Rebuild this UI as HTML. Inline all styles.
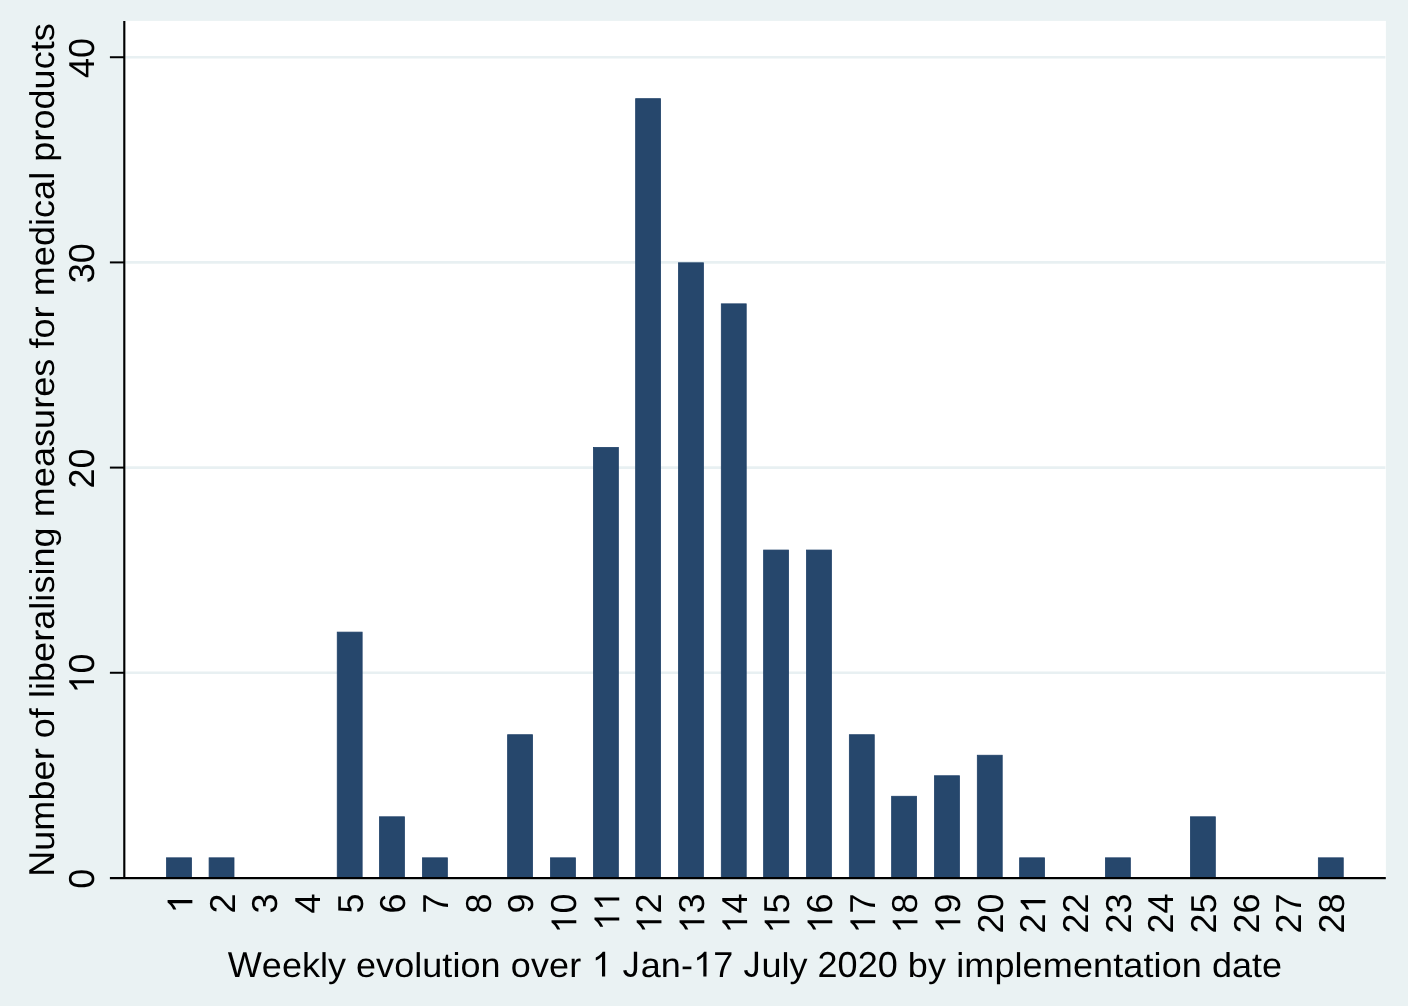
<!DOCTYPE html><html><head><meta charset="utf-8"><style>html,body{margin:0;padding:0;background:#eaf2f3;overflow:hidden;}svg{display:block;will-change:transform;}text{font-family:"Liberation Sans",sans-serif;fill:#000;text-rendering:geometricPrecision;font-kerning:none;white-space:pre;}</style></head><body>
<svg width="1408" height="1006" viewBox="0 0 1408 1006">
<defs><path id="g1" d="M763 0L583 0L583 1147Q518 1085 428 1020Q338 955 228 914L228 1088Q366 1150 470 1238Q574 1326 626 1409L763 1409Z"/><path id="gJ" d="M457 -20Q99 -20 32 350L219 381Q237 265 300 200Q363 135 450 135Q545 135 592 206Q640 278 640 416V1409H830V420Q830 215 730 97Q630 -20 457 -20Z"/></defs>
<g>
<rect x="0" y="0" width="1408" height="1006" fill="#eaf2f3"/>
<rect x="125.2" y="20.9" width="1260.70" height="857.05" fill="#fff"/>
<line x1="125.2" x2="1385.4" y1="672.77" y2="672.77" stroke="#e8f0f2" stroke-width="2.6"/>
<line x1="125.2" x2="1385.4" y1="467.59" y2="467.59" stroke="#e8f0f2" stroke-width="2.6"/>
<line x1="125.2" x2="1385.4" y1="262.41" y2="262.41" stroke="#e8f0f2" stroke-width="2.6"/>
<line x1="125.2" x2="1385.4" y1="57.23" y2="57.23" stroke="#e8f0f2" stroke-width="2.6"/>
<rect x="166.55" y="857.83" width="24.90" height="20.12" fill="#26476c" stroke="#1f4068" stroke-width="0.8"/>
<rect x="209.10" y="857.83" width="24.90" height="20.12" fill="#26476c" stroke="#1f4068" stroke-width="0.8"/>
<rect x="337.24" y="632.13" width="24.90" height="245.82" fill="#26476c" stroke="#1f4068" stroke-width="0.8"/>
<rect x="379.50" y="816.80" width="24.90" height="61.15" fill="#26476c" stroke="#1f4068" stroke-width="0.8"/>
<rect x="422.45" y="857.83" width="24.90" height="20.12" fill="#26476c" stroke="#1f4068" stroke-width="0.8"/>
<rect x="507.63" y="734.72" width="24.90" height="143.23" fill="#26476c" stroke="#1f4068" stroke-width="0.8"/>
<rect x="550.49" y="857.83" width="24.90" height="20.12" fill="#26476c" stroke="#1f4068" stroke-width="0.8"/>
<rect x="593.45" y="447.47" width="24.90" height="430.48" fill="#26476c" stroke="#1f4068" stroke-width="0.8"/>
<rect x="635.65" y="98.67" width="24.90" height="779.28" fill="#26476c" stroke="#1f4068" stroke-width="0.8"/>
<rect x="678.50" y="262.81" width="24.90" height="615.14" fill="#26476c" stroke="#1f4068" stroke-width="0.8"/>
<rect x="721.31" y="303.85" width="24.90" height="574.10" fill="#26476c" stroke="#1f4068" stroke-width="0.8"/>
<rect x="763.63" y="550.06" width="24.90" height="327.89" fill="#26476c" stroke="#1f4068" stroke-width="0.8"/>
<rect x="806.49" y="550.06" width="24.90" height="327.89" fill="#26476c" stroke="#1f4068" stroke-width="0.8"/>
<rect x="849.35" y="734.72" width="24.90" height="143.23" fill="#26476c" stroke="#1f4068" stroke-width="0.8"/>
<rect x="891.64" y="796.28" width="24.90" height="81.67" fill="#26476c" stroke="#1f4068" stroke-width="0.8"/>
<rect x="934.50" y="775.76" width="24.90" height="102.19" fill="#26476c" stroke="#1f4068" stroke-width="0.8"/>
<rect x="977.31" y="755.24" width="24.90" height="122.71" fill="#26476c" stroke="#1f4068" stroke-width="0.8"/>
<rect x="1019.63" y="857.83" width="24.90" height="20.12" fill="#26476c" stroke="#1f4068" stroke-width="0.8"/>
<rect x="1105.44" y="857.83" width="24.90" height="20.12" fill="#26476c" stroke="#1f4068" stroke-width="0.8"/>
<rect x="1190.42" y="816.80" width="24.90" height="61.15" fill="#26476c" stroke="#1f4068" stroke-width="0.8"/>
<rect x="1318.35" y="857.83" width="24.90" height="20.12" fill="#26476c" stroke="#1f4068" stroke-width="0.8"/>
<line x1="124.30" x2="124.30" y1="20.9" y2="878.9" stroke="#000" stroke-width="2.15"/>
<rect x="109.9" y="877.00" width="1275.90" height="2.22" fill="#000"/>
<line x1="109.9" x2="124.30" y1="672.77" y2="672.77" stroke="#000" stroke-width="2"/>
<line x1="109.9" x2="124.30" y1="467.59" y2="467.59" stroke="#000" stroke-width="2"/>
<line x1="109.9" x2="124.30" y1="262.41" y2="262.41" stroke="#000" stroke-width="2"/>
<line x1="109.9" x2="124.30" y1="57.23" y2="57.23" stroke="#000" stroke-width="2"/>
<g transform="translate(94.00 888.76) rotate(-90)"><text x="0.00" y="0" font-size="36.00">0</text></g>
<g transform="translate(94.00 693.59) rotate(-90)"><text x="20.02" y="0" font-size="36.00">0</text><use href="#g1" transform="translate(0.00 0) scale(0.01758 -0.01758)"/></g>
<g transform="translate(94.00 488.41) rotate(-90)"><text x="0.00 20.02" y="0" font-size="36.00">20</text></g>
<g transform="translate(94.00 283.23) rotate(-90)"><text x="0.00 20.02" y="0" font-size="36.00">30</text></g>
<g transform="translate(94.00 78.05) rotate(-90)"><text x="0.00 20.02" y="0" font-size="36.00">40</text></g>
<g transform="translate(192.35 913.52) rotate(-90)"><use href="#g1" transform="translate(0.00 0) scale(0.01758 -0.01758)"/></g>
<g transform="translate(234.90 913.52) rotate(-90)"><text x="0.00" y="0" font-size="36.00">2</text></g>
<g transform="translate(277.42 913.52) rotate(-90)"><text x="0.00" y="0" font-size="36.00">3</text></g>
<g transform="translate(320.28 913.52) rotate(-90)"><text x="0.00" y="0" font-size="36.00">4</text></g>
<g transform="translate(363.04 913.52) rotate(-90)"><text x="0.00" y="0" font-size="36.00">5</text></g>
<g transform="translate(405.30 913.52) rotate(-90)"><text x="0.00" y="0" font-size="36.00">6</text></g>
<g transform="translate(448.25 913.52) rotate(-90)"><text x="0.00" y="0" font-size="36.00">7</text></g>
<g transform="translate(491.10 913.52) rotate(-90)"><text x="0.00" y="0" font-size="36.00">8</text></g>
<g transform="translate(533.43 913.52) rotate(-90)"><text x="0.00" y="0" font-size="36.00">9</text></g>
<g transform="translate(576.29 933.54) rotate(-90)"><text x="20.02" y="0" font-size="36.00">0</text><use href="#g1" transform="translate(0.00 0) scale(0.01758 -0.01758)"/></g>
<g transform="translate(619.25 930.87) rotate(-90)"><use href="#g1" transform="translate(0.00 0) scale(0.01758 -0.01758)"/><use href="#g1" transform="translate(20.02 0) scale(0.01758 -0.01758)"/></g>
<g transform="translate(661.45 933.54) rotate(-90)"><text x="20.02" y="0" font-size="36.00">2</text><use href="#g1" transform="translate(0.00 0) scale(0.01758 -0.01758)"/></g>
<g transform="translate(704.30 933.54) rotate(-90)"><text x="20.02" y="0" font-size="36.00">3</text><use href="#g1" transform="translate(0.00 0) scale(0.01758 -0.01758)"/></g>
<g transform="translate(747.11 933.54) rotate(-90)"><text x="20.02" y="0" font-size="36.00">4</text><use href="#g1" transform="translate(0.00 0) scale(0.01758 -0.01758)"/></g>
<g transform="translate(789.43 933.54) rotate(-90)"><text x="20.02" y="0" font-size="36.00">5</text><use href="#g1" transform="translate(0.00 0) scale(0.01758 -0.01758)"/></g>
<g transform="translate(832.29 933.54) rotate(-90)"><text x="20.02" y="0" font-size="36.00">6</text><use href="#g1" transform="translate(0.00 0) scale(0.01758 -0.01758)"/></g>
<g transform="translate(875.15 933.54) rotate(-90)"><text x="20.02" y="0" font-size="36.00">7</text><use href="#g1" transform="translate(0.00 0) scale(0.01758 -0.01758)"/></g>
<g transform="translate(917.44 933.54) rotate(-90)"><text x="20.02" y="0" font-size="36.00">8</text><use href="#g1" transform="translate(0.00 0) scale(0.01758 -0.01758)"/></g>
<g transform="translate(960.30 933.54) rotate(-90)"><text x="20.02" y="0" font-size="36.00">9</text><use href="#g1" transform="translate(0.00 0) scale(0.01758 -0.01758)"/></g>
<g transform="translate(1003.11 933.54) rotate(-90)"><text x="0.00 20.02" y="0" font-size="36.00">20</text></g>
<g transform="translate(1045.43 933.54) rotate(-90)"><text x="0.00" y="0" font-size="36.00">2</text><use href="#g1" transform="translate(20.02 0) scale(0.01758 -0.01758)"/></g>
<g transform="translate(1088.30 933.54) rotate(-90)"><text x="0.00 20.02" y="0" font-size="36.00">22</text></g>
<g transform="translate(1131.24 933.54) rotate(-90)"><text x="0.00 20.02" y="0" font-size="36.00">23</text></g>
<g transform="translate(1173.45 933.54) rotate(-90)"><text x="0.00 20.02" y="0" font-size="36.00">24</text></g>
<g transform="translate(1216.22 933.54) rotate(-90)"><text x="0.00 20.02" y="0" font-size="36.00">25</text></g>
<g transform="translate(1259.13 933.54) rotate(-90)"><text x="0.00 20.02" y="0" font-size="36.00">26</text></g>
<g transform="translate(1301.45 933.54) rotate(-90)"><text x="0.00 20.02" y="0" font-size="36.00">27</text></g>
<g transform="translate(1344.15 933.54) rotate(-90)"><text x="0.00 20.02" y="0" font-size="36.00">28</text></g>
<g transform="translate(54.20 876.85) rotate(-90)"><text x="26.10 46.20 76.31 96.41 116.51 138.59 158.69 178.78 186.81 194.84 214.94 235.04 247.08 267.18 275.21 283.24 301.31 309.34 329.44 359.59 389.70 409.80 429.90 447.97 468.07 480.11 500.21 528.32 538.37 558.47 580.55 610.65 630.76 650.86 658.89 676.96 697.06 715.13 735.23 747.27 767.37 787.47 807.57 825.65 835.69" y="0" font-size="36.00" transform="scale(1 0.9550)">umberofliberalisingmeasuresformedicalproducts</text><text x="0.00" y="0" font-size="36.00">N</text></g>
<g transform="translate(227.80 976.60)"><text x="34.03 54.08 74.14 92.16 100.17 128.22 148.30 166.36 186.45 194.47 214.56 224.59 232.62 252.71 282.83 303.08 321.29 341.54 412.90 433.06 453.21 533.68 553.73 561.74 679.97 700.14 728.37 736.43 766.62 786.77 794.82 814.98 845.17 865.32 885.48 895.55 915.70 925.77 933.83 953.98 984.12 1004.14 1024.16 1034.17" y="0" font-size="36.00" transform="scale(1 0.9550)">eeklyevolutionoveran-ulybyimplementationdate</text><text x="0.00 485.43 589.77 609.82 629.86 649.91" y="0" font-size="36.00">W72020</text><use href="#g1" transform="translate(363.95 0) scale(0.01758 -0.01758)"/><use href="#gJ" transform="translate(394.76 0) scale(0.01758 -0.01758)"/><use href="#g1" transform="translate(465.28 0) scale(0.01758 -0.01758)"/><use href="#gJ" transform="translate(515.66 0) scale(0.01758 -0.01758)"/></g>
</g></svg></body></html>
